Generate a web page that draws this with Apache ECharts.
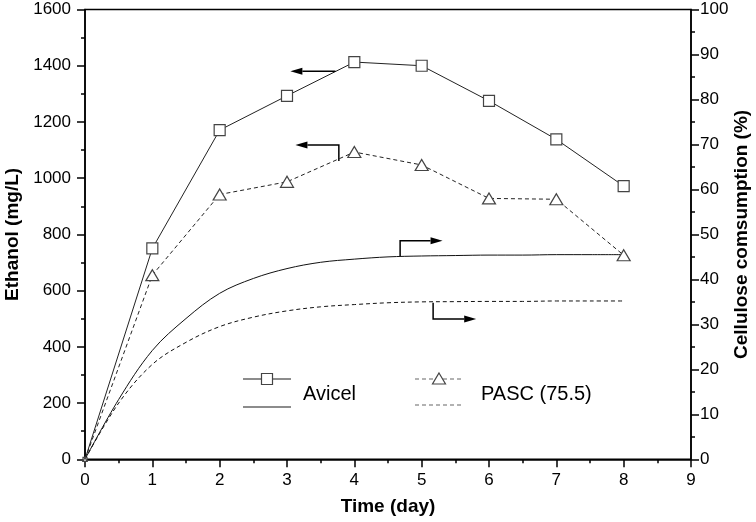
<!DOCTYPE html>
<html>
<head>
<meta charset="utf-8">
<script src="https://cdn.jsdelivr.net/npm/echarts@6/dist/echarts.min.js"></script>
<style>
html,body{margin:0;padding:0;background:#fff;}
#chart{width:756px;height:522px;}
</style>
</head>
<body>
<div id="chart"></div>
<script>
// ---- data ----
const days = [0, 1, 2, 3, 4, 5, 6, 7, 8];
const avicelEthanol = [0, 750, 1171, 1293, 1413, 1400, 1275, 1138, 972];
const pascEthanol   = [0, 655, 942, 987, 1093, 1047, 928, 925, 726];

const consTimes   = [0, 0.5, 1, 1.5, 2, 2.5, 3, 3.5, 4, 4.5, 5, 5.5, 6, 6.5, 7, 7.5, 8];
const avicelCons  = [0, 13.3, 24.2, 31.3, 36.9, 40.2, 42.4, 43.8, 44.5, 45.0, 45.2, 45.3, 45.4, 45.4, 45.5, 45.5, 45.5];
const pascCons    = [0, 12.5, 21.1, 26.0, 29.5, 31.6, 33.0, 33.9, 34.4, 34.8, 35.0, 35.05, 35.1, 35.1, 35.2, 35.2, 35.2];

const xTicks = [0, 1, 2, 3, 4, 5, 6, 7, 8, 9];
const leftTicks = [0, 200, 400, 600, 800, 1000, 1200, 1400, 1600];
const rightTicks = [0, 10, 20, 30, 40, 50, 60, 70, 80, 90, 100];

const legendNames = ['Avicel', 'PASC (75.5)'];

// annotation arrows, in data units: [day, value]
const arrowAvicelEthanol = [[3.72, 1380], [3.05, 1380]];
const arrowPascEthanol   = [[3.77, 1061], [3.77, 1118], [3.125, 1118]];
const arrowAvicelCons    = [[4.68, 45.2], [4.68, 48.6], [5.31, 48.6]];
const arrowPascCons      = [[5.17, 34.8], [5.17, 31.2], [5.81, 31.2]];

// ---- chart ----
const FONT = '"Liberation Sans", Arial, sans-serif';
const chart = echarts.init(document.getElementById('chart'), null, {renderer: 'canvas'});

function pairs(xs, ys, firstSmall) {
  return xs.map((x, i) => {
    const d = {value: [x, ys[i]]};
    if (firstSmall && i === 0) d.symbolSize = 4;
    return d;
  });
}

const axisCommon = {
  axisLine: {show: true, lineStyle: {color: '#000', width: 1.5}},
  axisTick: {show: true, inside: false, length: 8, lineStyle: {color: '#000', width: 1.5}},
  minorTick: {show: true, splitNumber: 2, length: 4, lineStyle: {color: '#000', width: 1.5}},
  splitLine: {show: false},
  minorSplitLine: {show: false},
  nameTextStyle: {color: '#000', fontFamily: FONT, fontWeight: 'bold', fontSize: 19}
};
const plainLabel = v => String(v);

const option = {
  backgroundColor: '#fff',
  animation: false,
  grid: {left: 85, right: 65, top: 9.5, bottom: 62.7, show: true, borderColor: '#000', borderWidth: 1.5,
         containLabel: false, outerBoundsMode: 'none'},
  xAxis: Object.assign({}, axisCommon, {
    type: 'value', min: xTicks[0], max: xTicks[xTicks.length - 1], interval: 1,
    name: 'Time (day)', nameLocation: 'middle', nameGap: 38,
    axisLabel: {color: '#000', fontFamily: FONT, fontSize: 17, margin: 13, formatter: plainLabel}
  }),
  yAxis: [
    Object.assign({}, axisCommon, {
      type: 'value', min: leftTicks[0], max: leftTicks[leftTicks.length - 1], interval: 200,
      position: 'left',
      name: 'Ethanol (mg/L)', nameLocation: 'middle', nameGap: 62, nameRotate: 90,
      axisLabel: {color: '#000', fontFamily: FONT, fontSize: 17, margin: 14, formatter: plainLabel}
    }),
    Object.assign({}, axisCommon, {
      type: 'value', min: rightTicks[0], max: rightTicks[rightTicks.length - 1], interval: 10,
      position: 'right',
      name: 'Cellulose comsumption (%)', nameLocation: 'middle', nameGap: 41, nameRotate: 90,
      nameMoveOverlap: false,
      axisLabel: {color: '#000', fontFamily: FONT, fontSize: 17, margin: 9, formatter: plainLabel}
    })
  ],
  series: [
    {
      name: legendNames[0] + ' ethanol', type: 'line', yAxisIndex: 0,
      data: pairs(days, avicelEthanol, true),
      symbol: 'rect', symbolSize: 11, showAllSymbol: true,
      lineStyle: {color: '#222', width: 1},
      itemStyle: {color: '#fff', borderColor: '#444', borderWidth: 1.2},
      z: 3
    },
    {
      name: legendNames[1] + ' ethanol', type: 'line', yAxisIndex: 0,
      data: pairs(days, pascEthanol, true),
      symbol: 'triangle', symbolSize: [13, 11], showAllSymbol: true,
      lineStyle: {color: '#222', width: 1, type: [4, 3]},
      itemStyle: {color: '#fff', borderColor: '#444', borderWidth: 1.2},
      z: 3
    },
    {
      name: legendNames[0] + ' consumption', type: 'line', yAxisIndex: 1,
      data: pairs(consTimes, avicelCons, false),
      smooth: 0.35, showSymbol: false, symbol: 'none',
      lineStyle: {color: '#111', width: 1}
    },
    {
      name: legendNames[1] + ' consumption', type: 'line', yAxisIndex: 1,
      data: pairs(consTimes, pascCons, false),
      smooth: 0.35, showSymbol: false, symbol: 'none',
      lineStyle: {color: '#111', width: 1, type: [4, 3]}
    }
  ]
};
chart.setOption(option);

function arrowGraphic(pts, yIdx) {
  const px = pts.map(p => chart.convertToPixel({xAxisIndex: 0, yAxisIndex: yIdx}, p));
  const n = px.length;
  const tip = px[n - 1], prev = px[n - 2];
  const dx = tip[0] - prev[0], dy = tip[1] - prev[1];
  const len = Math.sqrt(dx * dx + dy * dy) || 1;
  const ux = dx / len, uy = dy / len;
  const hl = 12, hw = 3.5;
  const base = [tip[0] - ux * hl, tip[1] - uy * hl];
  const linePts = px.slice(0, n - 1).concat([base]);
  return [
    {type: 'polyline', silent: true, z: 10, shape: {points: linePts}, style: {stroke: '#000', lineWidth: 1.5, fill: null}},
    {type: 'polygon', silent: true, z: 10, shape: {points: [tip, [base[0] - uy * hw, base[1] + ux * hw], [base[0] + uy * hw, base[1] - ux * hw]]}, style: {fill: '#000'}}
  ];
}

const g = [];
g.push(...arrowGraphic(arrowAvicelEthanol, 0));
g.push(...arrowGraphic(arrowPascEthanol, 0));
g.push(...arrowGraphic(arrowAvicelCons, 1));
g.push(...arrowGraphic(arrowPascCons, 1));

// legend (custom, two-row samples)
const legStroke = '#666';
g.push(
  {type: 'line', silent: true, shape: {x1: 243, y1: 379, x2: 291, y2: 379}, style: {stroke: legStroke, lineWidth: 1.5}},
  {type: 'rect', silent: true, z: 5, shape: {x: 261.5, y: 373.5, width: 11, height: 11}, style: {fill: '#fff', stroke: '#444', lineWidth: 1.2}},
  {type: 'line', silent: true, shape: {x1: 243, y1: 407, x2: 291, y2: 407}, style: {stroke: legStroke, lineWidth: 1.5}},
  {type: 'text', silent: true, x: 303, y: 394, style: {text: legendNames[0], fill: '#000', font: '20px ' + FONT, textVerticalAlign: 'middle', verticalAlign: 'middle'}},
  {type: 'line', silent: true, shape: {x1: 415, y1: 379, x2: 463, y2: 379}, style: {stroke: legStroke, lineWidth: 1.2, lineDash: [4, 3]}},
  {type: 'polygon', silent: true, z: 5, shape: {points: [[439, 373], [445.5, 384], [432.5, 384]]}, style: {fill: '#fff', stroke: '#444', lineWidth: 1.2}},
  {type: 'line', silent: true, shape: {x1: 415, y1: 405, x2: 463, y2: 405}, style: {stroke: legStroke, lineWidth: 1.2, lineDash: [4, 3]}},
  {type: 'text', silent: true, x: 481, y: 394, style: {text: legendNames[1], fill: '#000', font: '20px ' + FONT, textVerticalAlign: 'middle', verticalAlign: 'middle'}}
);

chart.setOption({graphic: g});
</script>
</body>
</html>
